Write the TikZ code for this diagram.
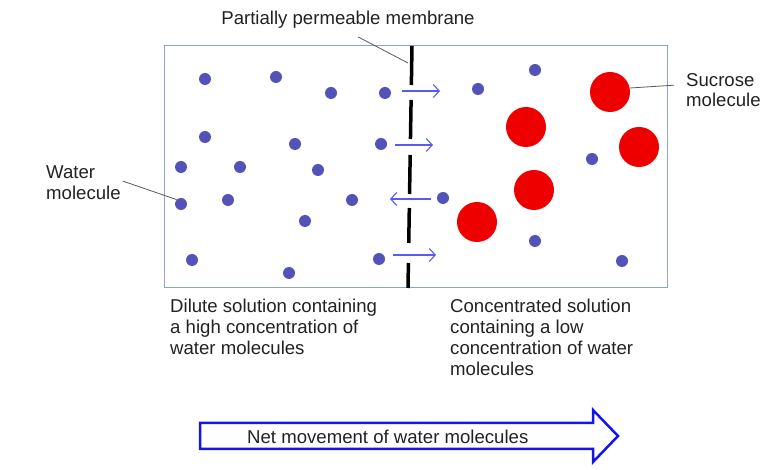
\documentclass[tikz,border=0pt]{standalone}
\usepackage{fontspec}
\setmainfont{Liberation Sans}
\usetikzlibrary{positioning,arrows.meta}
\definecolor{boxblue}{HTML}{8FA4C8}
\definecolor{dotblue}{HTML}{5252B8}
\definecolor{fluxblue}{HTML}{5A5AF0}
\definecolor{netblue}{HTML}{1414EE}
\definecolor{sucred}{HTML}{EE0000}
\definecolor{txt}{HTML}{222222}

\begin{document}
\begin{tikzpicture}[
        x = 1pt,
        y = -1pt,
        every node/.style = {text=txt, font=\fontsize{18.6}{20.8}\selectfont, inner sep=0pt},
        water/.style = {circle, fill=dotblue, minimum size=12pt},
        sucrose/.style = {circle, fill=sucred, minimum size=40pt},
        flux/.style = {-{Straight Barb[length=6pt, width=13pt]}, fluxblue, line width=1.1pt},
        leader/.style = {draw=black!65, line width=0.8pt}
        ]
        \useasboundingbox (0, 0) rectangle (780, 470);
        \draw[boxblue, line width=1pt] (164, 46) rectangle (667, 288);
        \foreach \a/\b in {46/85, 100/139, 155/194, 208/243, 263/288}
            \draw[line width=3.5pt] ({412-(\a-46)/60.5}, \a) -- ({412-(\b-46)/60.5}, \b);
        \foreach \x/\y [count=\i] in {205/79, 276/77, 331/93, 385/93, 205/137, 295/144, 381/144,
                181/167, 240/167, 318/170, 181/204, 228/200, 352/200, 305/221, 192/260,
                289/273, 379/259, 478/89, 535/70, 443/198, 592/159, 535/241, 622/261}
            \node[water] (w\i) at (\x, \y) {};
        \foreach \x/\y [count=\i] in {610/92, 526/127, 639/147, 534/190, 477/222}
            \node[sucrose] (s\i) at (\x, \y) {};
        \foreach \a/\b/\y [count=\i] in {402/440/91, 395/433/145, 431/390/199, 393/436/255} {
            \coordinate (fa\i) at (\a, \y);
            \coordinate (fb\i) at (\b, \y);
            \draw[flux] (fa\i) -- (fb\i);
        }
        \node (memlabel) at (348, 20) {Partially permeable membrane};
        \coordinate (mem) at (408, 63);
        \draw[leader] (memlabel.south) ++(10, 8) -- (mem);
        \node[anchor=north west, align=left] (waterlabel) at (46, 166) {Water\\molecule};
        \draw[leader] (waterlabel.east) ++(2, -2) -- (w11.north west);
        \node[anchor=north west, align=left] (sucroselabel) at (686, 73) {Sucrose\\molecule};
        \coordinate (suc) at ([xshift=-12pt, yshift=5pt]sucroselabel.west);
        \draw[leader] ([yshift=4pt]s1.east) -- (suc);
        \node[anchor=north west, align=left] (dilute) at (170, 299)
            {Dilute solution containing\\a high concentration of\\water molecules};
        \node[anchor=north west, align=left] (conc) at (450, 299)
            {Concentrated solution\\containing a low\\concentration of water\\molecules};
        \draw[netblue, line width=2.5pt, line join=miter] (200, 423) -- (593, 423) -- (593, 410)
            -- (618, 436) -- (593, 462) -- (593, 449) -- (200, 449) -- cycle;
        \node[anchor=west] (net) at (247, 437) {Net movement of water molecules};
    \end{tikzpicture}
\end{document}
